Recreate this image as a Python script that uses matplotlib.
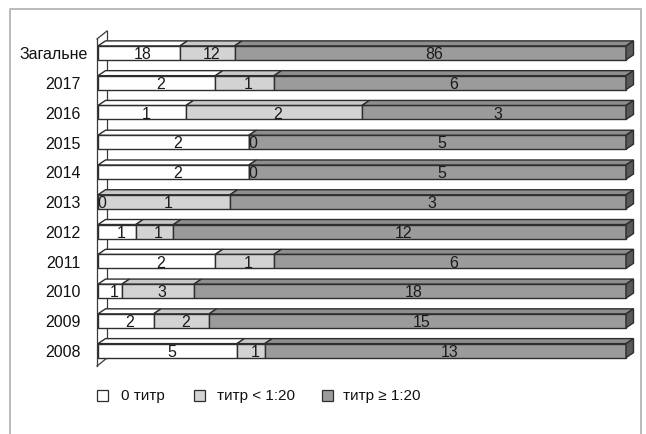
import matplotlib
matplotlib.use("Agg")
import matplotlib.pyplot as plt
import numpy as np
from matplotlib.patches import Polygon, Rectangle
from matplotlib.lines import Line2D
from matplotlib.transforms import ScaledTranslation

categories = ["Загальне", "2017", "2016", "2015", "2014", "2013", "2012", "2011", "2010", "2009", "2008"]
zero_titer = [18, 2, 1, 2, 2, 0, 1, 2, 1, 2, 5]
low_titer = [12, 1, 2, 0, 0, 1, 1, 1, 3, 2, 1]
high_titer = [86, 6, 3, 5, 5, 3, 12, 6, 18, 15, 13]
series_names = ["0 титр", "титр < 1:20", "титр ≥ 1:20"]

front_colors = ["#ffffff", "#d3d3d3", "#9b9b9b"]
top_colors = ["#ffffff", "#c9c9c9", "#8e8e8e"]
side_color = "#5a5a5a"
edge = "#2e2e2e"

plt.rcParams['font.family'] = ['Liberation Sans', 'DejaVu Sans']

W, H = 646, 435
fig = plt.figure(figsize=(W / 100, H / 100), dpi=100)
x0, x1 = 98, 626
ytop, ybot = 38.4, 365.9
n = len(categories)
ax = fig.add_axes([x0 / W, 1 - ybot / H, (x1 - x0) / W, (ybot - ytop) / H])
ax.set_xlim(0, 100)
ax.set_ylim(n - 0.5, -0.5)
for s in ax.spines.values():
    s.set_visible(False)
ax.set_xticks([])

def px_x(p):
    return (p - x0) / (x1 - x0) * 100

def px_y(p):
    return (p - ytop) / ((ybot - ytop) / n) - 0.5

data = np.array([zero_titer, low_titer, high_titer], dtype=float)
totals = data.sum(axis=0)
pct = data / totals * 100
y = np.arange(n)
h = 0.47
dx = 7.5 / (x1 - x0) * 100
dy = 5 / ((ybot - ytop) / n)
lw = 1.0
label_shift = 4 / (x1 - x0) * 100

# wall
wl = dict(color="#3a3a3a", lw=0.9, zorder=1)
fx, bx = px_x(97), px_x(107)
ax.add_line(Line2D([fx, fx], [px_y(40), px_y(367)], clip_on=False, **wl))
ax.add_line(Line2D([bx, bx], [px_y(32), px_y(359)], clip_on=False, **wl))
ax.add_line(Line2D([fx, bx], [px_y(40), px_y(32)], clip_on=False, **wl))
ax.add_line(Line2D([fx, bx], [px_y(367), px_y(359)], clip_on=False, **wl))

left = np.zeros(n)
for j in range(3):
    ax.barh(y + 0.02, pct[j], left=left, height=h, color=front_colors[j], edgecolor=edge,
            linewidth=lw, zorder=3, clip_on=False)
    for i in range(n):
        l, w = left[i], pct[j][i]
        t = i + 0.02 - h / 2
        if w > 0:
            ax.add_patch(Polygon([(l, t), (l + w, t), (l + w + dx, t - dy), (l + dx, t - dy)],
                                 closed=True, facecolor=top_colors[j], edgecolor=edge,
                                 linewidth=lw, zorder=3, clip_on=False))
        ax.text(l + w / 2 + label_shift, i + 0.045, f"{int(data[j][i])}", ha="center",
                va="center", fontsize=11.5, color="#1a1a1a", zorder=5)
    left = left + pct[j]

for i in range(n):
    t, b = i + 0.02 - h / 2, i + 0.02 + h / 2
    ax.add_patch(Polygon([(100, t), (100 + dx, t - dy), (100 + dx, b - dy), (100, b)],
                         closed=True, facecolor=side_color, edgecolor=edge,
                         linewidth=lw, zorder=3, clip_on=False))

ax.set_yticks(y)
ax.set_yticklabels(categories, fontsize=11.5, color="#111111")
ax.tick_params(axis="y", length=0, pad=12.5)
lab0 = ax.get_yticklabels()[0]
lab0.set_transform(lab0.get_transform() + ScaledTranslation(7 / 100, 0, fig.dpi_scale_trans))

# legend
leg_sq_x = [97, 194, 322]
leg_tx_x = [121, 217, 343]
for j in range(3):
    fig.patches.append(Rectangle((leg_sq_x[j] / W, 1 - 402 / H), 11 / W, 11 / H,
                                 transform=fig.transFigure, facecolor=front_colors[j],
                                 edgecolor=edge, linewidth=0.9))
    fig.text(leg_tx_x[j] / W, 1 - 396.5 / H, series_names[j], ha="left", va="center",
             fontsize=11, color="#111111")

# frame
fig.add_artist(Line2D([10 / W, 10 / W, 641 / W, 641 / W], [0, 1 - 10 / H, 1 - 10 / H, 0],
                      transform=fig.transFigure, color="#b5b5b5", lw=1.3))

fig.savefig("out.png", dpi=100)
